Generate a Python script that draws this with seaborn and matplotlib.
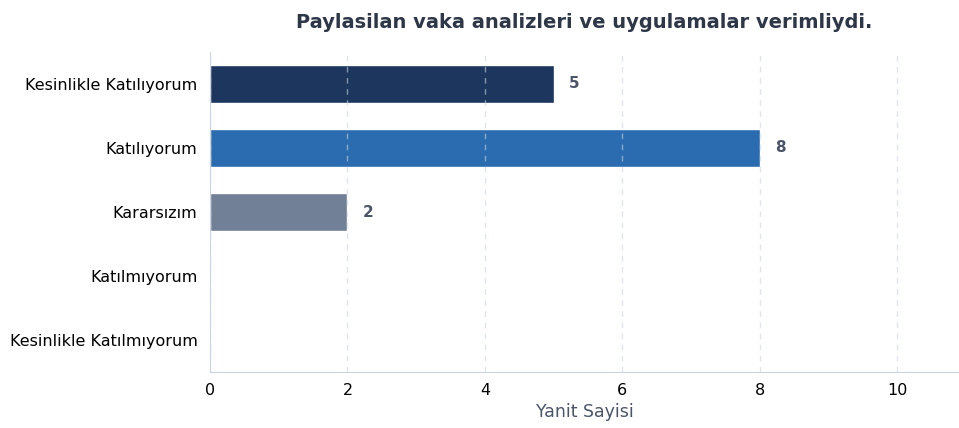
import matplotlib
matplotlib.use("Agg")
import matplotlib.pyplot as plt
import seaborn as sns
import pandas as pd

categories = ["Kesinlikle Katılıyorum", "Katılıyorum", "Kararsızım",
              "Katılmıyorum", "Kesinlikle Katılmıyorum"]
counts = [5, 8, 2, 0, 0]
colors = ["#1c365e", "#2b6cb0", "#718096", "#c53030", "#742a2a"]

df = pd.DataFrame({"cevap": categories, "sayi": counts})

sns.set_style("white")
plt.rcParams['font.family'] = ['DejaVu Sans']

fig, ax = plt.subplots(figsize=(9.59, 4.28), dpi=100)
sns.barplot(data=df, y="cevap", x="sayi", hue="cevap", palette=colors,
            orient="h", width=0.6, legend=False, ax=ax, saturation=1)

ax.set_xlim(0, 10.9)
ax.set_xticks([0, 2, 4, 6, 8, 10])
ax.grid(axis="x", linestyle=(0, (4, 4)), color="#cbd5e0", linewidth=1, alpha=0.6)
ax.set_axisbelow(False)

for i, v in enumerate(counts):
    if v > 0:
        ax.text(v + 0.22, i, str(v), va="center", ha="left",
                fontsize=11, fontweight="bold", color="#4a5568")

ax.set_title("Paylasilan vaka analizleri ve uygulamalar verimliydi.",
             fontsize=14, fontweight="bold", color="#2d3748", pad=17)
ax.set_xlabel("Yanit Sayisi", fontsize=12.5, color="#4a5568")
ax.set_ylabel("")
ax.tick_params(axis="both", labelsize=11.5, length=4)
ax.tick_params(axis="y", pad=5)
ax.tick_params(axis="both", colors="#000000")

for s in ["top", "right"]:
    ax.spines[s].set_visible(False)
for s in ["left", "bottom"]:
    ax.spines[s].set_color("#cbd5e0")

plt.subplots_adjust(left=0.219, right=1.0, top=0.879, bottom=0.13)
fig.savefig("out.png", dpi=100)
